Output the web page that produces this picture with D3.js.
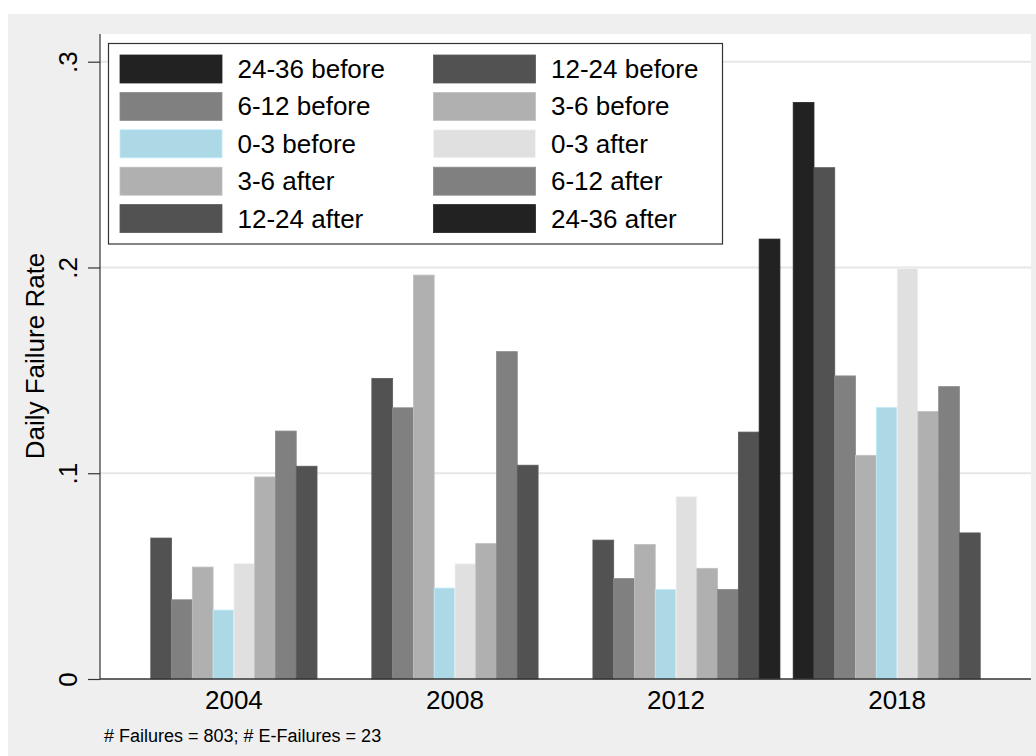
<!DOCTYPE html>
<html>
<head>
<meta charset="utf-8">
<script src="https://cdn.jsdelivr.net/npm/d3@7"></script>
<style>
  html, body { margin: 0; padding: 0; background: #ffffff; }
  svg { display: block; }
  text { font-family: "Liberation Sans", Arial, sans-serif; fill: #000; }
</style>
</head>
<body>
<svg id="chart" width="1036" height="756"></svg>
<script>
// ---- data ----
const groups = ["2004", "2008", "2012", "2018"];
const series = ["24-36 before", "12-24 before", "6-12 before", "3-6 before", "0-3 before",
                "0-3 after", "3-6 after", "6-12 after", "12-24 after", "24-36 after"];
const colors = ["#222222", "#525252", "#808080", "#b0b0b0", "#add8e6",
                "#e0e0e0", "#b0b0b0", "#808080", "#525252", "#222222"];
// values per group, in series order (null = no bar)
const v2004 = [null, 0.0685, 0.0385, 0.0544, 0.0335, 0.0562, 0.0982, 0.1205, 0.1034, null];
const v2008 = [null, 0.1461, 0.1318, 0.1963, 0.0442, 0.0560, 0.0658, 0.1591, 0.1039, null];
const v2012 = [null, 0.0675, 0.0488, 0.0654, 0.0435, 0.0887, 0.0538, 0.0435, 0.1200, 0.2138];
const v2018 = [0.2802, 0.2485, 0.1473, 0.1087, 0.1319, 0.1996, 0.1300, 0.1421, 0.0710, null];
const values = [v2004, v2008, v2012, v2018];
const yTicks = [0, 0.1, 0.2, 0.3];
const yTickLabels = ["0", ".1", ".2", ".3"];
const yTitle = "Daily Failure Rate";
const note = "# Failures = 803; # E-Failures = 23";

// ---- layout ----
const W = 1036, H = 756;
const plot = { left: 100, right: 1031, top: 34, bottom: 679 };
const svg = d3.select("#chart");

// outer gray graph region
svg.append("rect").attr("x", 8).attr("y", 14).attr("width", W - 8).attr("height", H - 14)
  .attr("fill", "#efefef");
// plot region
svg.append("rect").attr("x", plot.left).attr("y", plot.top)
  .attr("width", plot.right - plot.left).attr("height", plot.bottom - plot.top)
  .attr("fill", "#ffffff");

const y = d3.scaleLinear().domain([0, 0.3]).range([plot.bottom, 61.7]);
const x0 = d3.scaleBand().domain(groups).range([plot.left, plot.right])
  .paddingInner(0.06).paddingOuter(0.1357);
const x1 = d3.scaleBand().domain(series).range([0, x0.bandwidth()]).padding(0);

// gridlines
svg.append("g").selectAll("line").data(yTicks.filter(d => d > 0)).join("line")
  .attr("x1", plot.left).attr("x2", plot.right)
  .attr("y1", d => y(d)).attr("y2", d => y(d))
  .attr("stroke", "#e6e6e6").attr("stroke-width", 2);

// bars
const barData = [];
groups.forEach((g, gi) => {
  series.forEach((s, si) => {
    const val = values[gi][si];
    if (val !== null) barData.push({ g, s, val, color: colors[si] });
  });
});
svg.append("g").selectAll("rect").data(barData).join("rect")
  .attr("x", d => x0(d.g) + x1(d.s))
  .attr("width", x1.bandwidth())
  .attr("y", d => y(d.val))
  .attr("height", d => y(0) - y(d.val))
  .attr("fill", d => d.color)
  .attr("stroke", d => d3.color(d.color).brighter(0.25))
  .attr("stroke-width", 0.8);

// y axis
const yAxis = d3.axisLeft(y).tickValues(yTicks).tickSize(12)
  .tickFormat((d, i) => yTickLabels[i]);
const gy = svg.append("g").attr("transform", `translate(${plot.left},0)`).call(yAxis);
gy.select(".domain").attr("stroke", "#333").attr("stroke-width", 1.2)
  .attr("d", `M0,${plot.top}V${plot.bottom}`);
gy.selectAll(".tick line").attr("stroke", "#333").attr("stroke-width", 1.2);
gy.selectAll(".tick text")
  .attr("font-size", 26)
  .attr("font-family", "Liberation Sans, Arial, sans-serif")
  .attr("fill", "#000")
  .attr("text-anchor", "middle")
  .attr("dy", 0)
  .attr("x", 0).attr("y", 0)
  .attr("transform", "translate(-23,0) rotate(-90)");

// x axis
const xAxis = d3.axisBottom(x0).tickSize(0).tickPadding(0);
const gx = svg.append("g").attr("transform", `translate(0,${plot.bottom})`).call(xAxis);
gx.select(".domain").attr("stroke", "#333").attr("stroke-width", 1.5)
  .attr("d", `M${plot.left},0H${plot.right}`);
gx.selectAll(".tick text")
  .attr("font-size", 26)
  .attr("font-family", "Liberation Sans, Arial, sans-serif")
  .attr("fill", "#000")
  .attr("dy", 0).attr("y", 30);

// y title
svg.append("text").attr("transform", "translate(44,356) rotate(-90)")
  .attr("text-anchor", "middle").attr("font-size", 26).text(yTitle);

// note
svg.append("text").attr("x", 104).attr("y", 741.5).attr("font-size", 18).text(note);

// legend
const lg = svg.append("g");
lg.append("rect").attr("x", 108.5).attr("y", 43.5).attr("width", 614).attr("height", 200.5)
  .attr("fill", "#ffffff").attr("stroke", "#333").attr("stroke-width", 1.2);
const colX = [120, 433.5];
const textX = [237.5, 551];
const rowY0 = 69, rowStep = 37.4;
const items = lg.selectAll("g.item").data(series).join("g").attr("class", "item")
  .attr("transform", (d, i) => `translate(0,${rowY0 + Math.floor(i / 2) * rowStep})`);
items.append("rect")
  .attr("x", (d, i) => colX[i % 2]).attr("y", -14)
  .attr("width", 102).attr("height", 28)
  .attr("fill", (d, i) => colors[i])
  .attr("stroke", (d, i) => d3.color(colors[i]).brighter(0.25)).attr("stroke-width", 0.8);
items.append("text")
  .attr("x", (d, i) => textX[i % 2]).attr("y", 9)
  .attr("font-size", 26).text(d => d);
</script>
</body>
</html>
